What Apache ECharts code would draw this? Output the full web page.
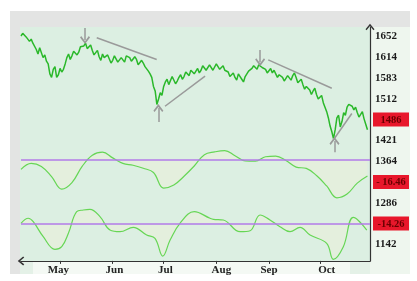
<!DOCTYPE html>
<html><head><meta charset="utf-8">
<script src="https://cdn.jsdelivr.net/npm/echarts@6/dist/echarts.min.js"></script>
<style>html,body{margin:0;padding:0;background:#fff}#c{width:417px;height:281px}</style>
</head><body><div id="c"></div>
<script>
// ---- data ----
const startDay = 98;   // day-of-year of first price point (early April)
const dayStep = 1;
const prices = [
  1652,1658,1656,1650,1648,1640,1645,1636,1633,1622,1612,1626,1622,1604,1610,1596,1590,1568,1560,1578,
  1584,1560,1566,1580,1572,1578,1590,1604,1612,1600,1608,1618,1622,1610,1616,1628,1625,1630,1636,1624,
  1628,1632,1620,1610,1615,1620,1606,1598,1612,1604,1600,1610,1606,1592,1598,1608,1604,1594,1596,1604,
  1600,1594,1608,1612,1604,1596,1598,1606,1600,1588,1590,1598,1592,1584,1580,1574,1568,1560,1540,1530,
  1500,1512,1526,1520,1540,1550,1556,1544,1548,1562,1560,1546,1552,1560,1566,1556,1562,1572,1570,1564,
  1576,1580,1568,1574,1580,1570,1576,1586,1584,1576,1578,1588,1585,1576,1580,1590,1588,1578,1582,1586,
  1576,1580,1572,1562,1566,1570,1560,1554,1568,1562,1556,1550,1562,1568,1574,1570,1580,1586,1584,1578,
  1588,1592,1582,1586,1578,1570,1574,1580,1570,1576,1568,1560,1566,1570,1560,1552,1556,1564,1560,1554,
  1564,1570,1560,1548,1552,1556,1544,1534,1540,1544,1532,1522,1530,1536,1522,1512,1516,1520,1504,1494,
  1484,1470,1452,1440,1424,1444,1470,1476,1450,1462,1482,1476,1494,1500,1504,1496,1488,1494,1482,1472,
  1478,1484,1468,1456,1444
];
const osc1Days   = [98,104,110,116,122,128,134,140,146,152,158,164,170,176,182,188,194,200,206,212,218,224,230,236,242,248,254,260,266,272,278,284,290,296,302];
const osc1Values = [-10,-4,-7,-17,-29.5,-23,-7,4,7,1.4,-4,-5.9,-8.8,-13,-28.4,-25.3,-16.7,-6.6,4.6,7.3,8.6,3.5,-1.6,-1.8,2.5,3.2,-1.2,-7.7,-9,-16,-26.3,-38,-34.3,-23.5,-16.5];
const osc2Days   = [98,102.3,105.2,111.1,118,122,125.9,130.8,134.7,138.6,144.5,150.4,156.3,164.1,172,176.9,181.5,185.8,191.6,200,209.3,211.3,217.1,227,232.9,238.8,244.6,250.5,256.4,262.3,268.2,278,281.9,287.8,293.7,301.6];
const osc2Values = [0,10.7,3.4,-28.5,-55.4,-49.8,-21.3,24.7,28.3,29.8,14.1,-14.3,-17.9,-8.5,-24.9,-32,-69.7,-35.6,0,24.7,10.7,8.5,7,-17.9,-15.8,17.7,7,-7.2,-17.9,-8.5,-24.9,-42.6,-76.7,-49.8,12.8,-14.3];
const tickLabels = ['1652','1614','1583','1512','1486','1421','1364','- 16.46','1286','-14.26','1142'];
const boxedLabels = ['1486','- 16.46','-14.26'];
const monthNames = ['May','Jun','Jul','Aug','Sep','Oct'];
const monthTickDays = [121,152,182,213,244,274];
const monthLabelDays = [120,153,183,216,244,278];
const trendLines = [
  [[142.6,1648],[177.9,1600]],
  [[182.8,1496],[206.4,1563]],
  [[243.6,1599],[281.0,1536]],
  [[281.9,1421],[292.8,1480]]
];
const arrows = [
  [[135.7,1670],[135.7,1643]],
  [[238.8,1621],[238.8,1594]],
  [[178.9,1461],[178.9,1492]],
  [[282.6,1394],[282.6,1419]]
];

// ---- chart ----
const chev = 'path://M5,0 L10,6 L8.8,7.2 L5,2.6 L1.2,7.2 L0,6 Z';
const serif = 'Liberation Serif';
const priceData = prices.map((p, i) => [startDay + i * dayStep, p]);
const osc1Data = osc1Days.map((d, i) => [d, osc1Values[i]]);
const osc2Data = osc2Days.map((d, i) => [d, osc2Values[i]]);
const X0 = 98, X1 = 303.5;
const L = 21, R = 47;
const hiddenX = gi => ({type:'value', gridIndex:gi, min:X0, max:X1, show:false});

const chart = echarts.init(document.getElementById('c'), null, {renderer:'canvas'});
chart.setOption({
  animation:false,
  backgroundColor:'#ffffff',
  graphic:[
    {type:'rect', z:-10, silent:true, shape:{x:10,y:11,width:400,height:263}, style:{fill:'#e3e4e3'}},
    {type:'rect', z:-10, silent:true, shape:{x:20,y:27,width:350,height:234}, style:{fill:'#dcefe2'}},
    {type:'rect', z:-10, silent:true, shape:{x:370,y:27,width:40,height:247}, style:{fill:'#eef6ee'}},
    {type:'rect', z:-10, silent:true, shape:{x:20,y:261,width:350,height:13}, style:{fill:'#e4f1e7'}},
    {type:'rect', z:-10, silent:true, shape:{x:33,y:262,width:317,height:12}, style:{fill:'#f4f9f4'}}
  ],
  grid:[
    {left:L, right:R, top:27, bottom:20},            // frame
    {left:L, right:R, top:27.9, bottom:122.5},       // price
    {left:L, right:R, top:144.1, height:60.8},       // osc 1
    {left:L, right:R, top:204.5, bottom:20.1},       // osc 2
    {left:L, right:R, top:36.5, bottom:36.7}         // right labels
  ],
  xAxis:[
    hiddenX(0), hiddenX(1), hiddenX(2),
    {type:'value', gridIndex:3, min:X0, max:X1,
      axisLine:{show:true, onZero:false, symbol:[chev,'none'], symbolSize:[9,8], lineStyle:{color:'#333', width:1.2}},
      axisTick:{show:true, customValues:monthTickDays, length:3, lineStyle:{color:'#333'}},
      axisLabel:{show:true, customValues:monthLabelDays, margin:4, fontFamily:serif, fontWeight:'bold', fontSize:11, color:'#222',
        formatter:v => { const i = monthLabelDays.indexOf(v); return i >= 0 ? monthNames[i] : ''; }},
      splitLine:{show:false}},
    hiddenX(4)
  ],
  yAxis:[
    {type:'value', gridIndex:0, min:0, max:1, position:'right',
      axisLine:{show:true, onZero:false, symbol:['none',chev], symbolSize:[9,8], lineStyle:{color:'#333', width:1.2}},
      axisTick:{show:false}, axisLabel:{show:false}, splitLine:{show:false}},
    {type:'value', gridIndex:1, min:1380, max:1670, show:false},
    {type:'value', gridIndex:2, min:-45, max:15, show:false},
    {type:'value', gridIndex:3, min:-80, max:40, show:false},
    {type:'value', gridIndex:4, min:0, max:10, interval:1, inverse:true, position:'right',
      axisLine:{show:false}, axisTick:{show:false}, splitLine:{show:false},
      axisLabel:{show:true, margin:3,
        formatter:v => { const t = tickLabels[v]; if (t === undefined) return ''; return boxedLabels.includes(t) ? '{b|' + t + '}' : '{n|' + t + '}'; },
        rich:{
          n:{fontFamily:serif, fontWeight:'bold', fontSize:11, color:'#1a1a1a', padding:[0,0,0,2]},
          b:{fontFamily:serif, fontWeight:'bold', fontSize:10.5, color:'#6a0000', backgroundColor:'#e8172b', width:34, align:'center', padding:[2,1,1,1]}
        }}}
  ],
  series:[
    {type:'line', xAxisIndex:1, yAxisIndex:1, data:priceData, showSymbol:false, silent:true,
      lineStyle:{color:'#2ab82a', width:1.5},
      markLine:{silent:true, symbol:['none','none'], label:{show:false}, animation:false,
        lineStyle:{color:'#9a9a9a', width:1.5, type:'solid'},
        data:trendLines.map(s => [{coord:s[0]}, {coord:s[1]}])}},
    {type:'line', xAxisIndex:1, yAxisIndex:1, data:[], silent:true,
      markLine:{silent:true, symbol:['none',chev], symbolSize:[10,8], label:{show:false}, animation:false,
        lineStyle:{color:'#9a9a9a', width:1.5, type:'solid'},
        data:arrows.map(s => [{coord:s[0]}, {coord:s[1]}])}},
    {type:'line', xAxisIndex:2, yAxisIndex:2, data:osc1Data, smooth:0.4, showSymbol:false, silent:true,
      lineStyle:{color:'#66d655', width:1.2},
      areaStyle:{origin:0, color:'rgba(255,240,205,0.35)'},
      markLine:{silent:true, symbol:['none','none'], label:{show:false}, animation:false,
        lineStyle:{color:'#b27be8', width:1.6, type:'solid'}, data:[{yAxis:0}]}},
    {type:'line', xAxisIndex:3, yAxisIndex:3, data:osc2Data, smooth:0.4, showSymbol:false, silent:true,
      lineStyle:{color:'#66d655', width:1.2},
      areaStyle:{origin:0, color:'rgba(255,240,205,0.35)'},
      markLine:{silent:true, symbol:['none','none'], label:{show:false}, animation:false,
        lineStyle:{color:'#b27be8', width:1.6, type:'solid'}, data:[{yAxis:0}]}}
  ]
});
</script></body></html>
